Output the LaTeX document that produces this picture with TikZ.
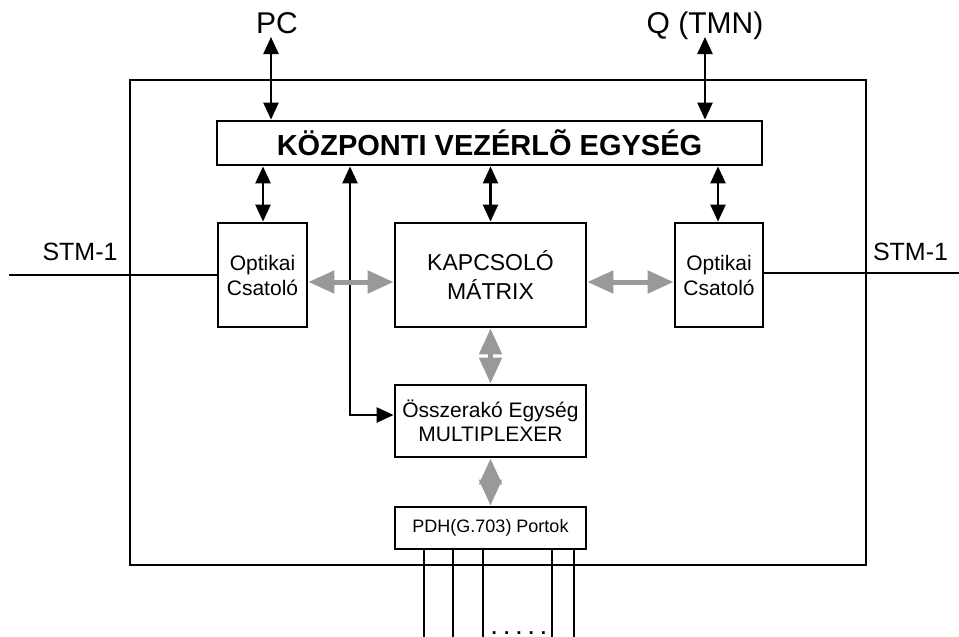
\documentclass[tikz,border=0pt]{standalone}
\usepackage{fontspec}
\setmainfont{Liberation Sans}
\usetikzlibrary{arrows.meta}
\definecolor{arrgray}{HTML}{999999}
\tikzset{
  box/.style={draw=black, line width=2.8pt, fill=white, inner sep=0pt, align=center},
  lbl/.style={inner sep=0pt, anchor=base},
  blk/.style={draw=black, line width=2.4pt, {Triangle[length=17pt,width=15pt]}-{Triangle[length=17pt,width=15pt]}},
  gry/.style={draw=arrgray, line width=5pt, {Triangle[length=26pt,width=22pt]}-{Triangle[length=26pt,width=22pt]}},
  wire/.style={draw=black, line width=2.4pt}
}
\begin{document}
\begin{tikzpicture}[x=1pt,y=-1pt]
\useasboundingbox (0,0) rectangle (959,637);
% outer frame
\node[draw=black, line width=2.6pt, minimum width=736pt, minimum height=485pt, inner sep=0pt] (outer) at (498,322.5) {};
% boxes
\node[box, minimum width=545pt, minimum height=44pt, font=\fontsize{29}{34}\selectfont\bfseries] (kve) at (489.5,143) {KÖZPONTI VEZÉRLÕ EGYSÉG};
\node[box, minimum width=89pt, minimum height=104pt, font=\fontsize{21}{25}\selectfont] (optL) at (262.5,275) {Optikai\\Csatoló};
\node[box, minimum width=191pt, minimum height=104pt, font=\fontsize{23}{29}\selectfont] (kap) at (490.5,275) {KAPCSOLÓ\\MÁTRIX};
\node[box, minimum width=88pt, minimum height=104pt, font=\fontsize{21}{25}\selectfont] (optR) at (719,275) {Optikai\\Csatoló};
\node[box, minimum width=191pt, minimum height=72pt, font=\fontsize{21}{24}\selectfont] (ossz) at (490.5,421) {Összerakó Egység\\MULTIPLEXER};
\node[box, minimum width=191pt, minimum height=42pt, font=\fontsize{18}{21}\selectfont] (pdh) at (490.5,528) {PDH(G.703) Portok};
% labels
\node[lbl, font=\fontsize{30}{36}\selectfont] (pc) at (277,33) {PC};
\node[lbl, font=\fontsize{30}{36}\selectfont] (q) at (705,33) {Q (TMN)};
\node[lbl, font=\fontsize{25}{30}\selectfont] (stmLt) at (80,260) {STM-1};
\node[lbl, font=\fontsize{25}{30}\selectfont] (stmRt) at (910.5,260) {STM-1};
% coordinates
\coordinate (pcend) at (271,37);
\coordinate (qend) at (705,37);
\coordinate (bend) at (350,415);
\coordinate (stmL) at (9,275);
\coordinate (stmR) at (959,273);
% black arrows
\draw[blk] (pcend) -- (pcend |- kve.north);
\draw[blk] (qend) -- (qend |- kve.north);
\draw[blk] (kve.south -| 263,0) -- (optL.north -| 263,0);
\draw[blk] (kap.north |- kve.south) -- (kap.north);
\draw[blk] (kve.south -| 718,0) -- (optR.north -| 718,0);
\draw[blk] (bend |- kve.south) |- (ossz.west |- bend);
% STM-1 lines
\draw[wire] (stmL) -- (stmL -| optL.west);
\draw[wire] (optR.east |- stmR) -- (stmR);
% gray arrows
\draw[gry] ([yshift=-7pt]optL.east) -- ([yshift=-7pt]kap.west);
\draw[gry] ([yshift=-7pt]kap.east) -- ([yshift=-7pt]optR.west);
\draw[gry] (kap.south) -- (ossz.north);
\draw[gry] (ossz.south) -- (pdh.north);
% PDH port lines
\foreach \i/\x in {1/424,2/453,3/483,4/552,5/574}{
  \coordinate (p\i) at (\x,645);
  \draw[wire] (p\i |- pdh.south) -- (p\i);
}
\node[lbl, font=\fontsize{19}{22}\selectfont\bfseries] (dots) at (519,634) {. . . . .};
\end{tikzpicture}
\end{document}
